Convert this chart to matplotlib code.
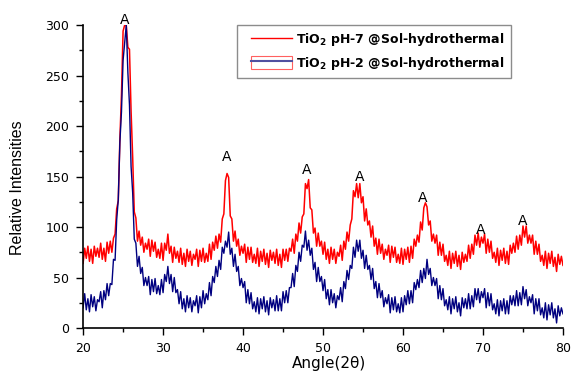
import matplotlib
matplotlib.use("Agg")
import matplotlib.pyplot as plt
import numpy as np
from matplotlib.lines import Line2D
from matplotlib.patches import Rectangle
from matplotlib.legend_handler import HandlerTuple, HandlerLine2D

plt.rcParams['font.family'] = ['DejaVu Sans']

# 2-theta grid: 20..80 in 0.2 deg steps
angle_start, angle_step = 20.0, 0.2

ph7 = [
    64, 79, 69, 81, 66,  78, 64, 81, 71, 79,  70, 84, 68, 79, 66,
    85, 74, 86, 75, 89,  93, 118, 126, 187, 231,  294, 300, 300, 278, 276,
    215, 169, 115, 109, 86,  96, 82, 90, 75, 84,  78, 88, 71, 87, 76,
    85, 70, 78, 69, 84,  67, 84, 77, 93, 74,  81, 65, 80, 69, 76,
    65, 79, 63, 74, 61,  78, 66, 76, 62, 73,  68, 78, 61, 77, 66,
    79, 65, 74, 66, 83,  68, 85, 77, 91, 79,  93, 85, 108, 113, 146,
    153, 149, 111, 108, 86,  96, 81, 88, 72, 81,  74, 83, 65, 80, 68,
    80, 65, 73, 64, 79,  61, 76, 66, 78, 63,  74, 60, 77, 67, 75,
    64, 78, 62, 73, 60,  78, 67, 78, 66, 79,  76, 88, 74, 93, 86,
    104, 94, 110, 113, 143,  138, 147, 119, 117, 94,  99, 81, 94, 81, 86,
    73, 85, 68, 78, 64,  80, 68, 78, 64, 75,  71, 82, 67, 86, 78,
    95, 86, 102, 108, 136,  130, 143, 129, 143, 124,  130, 106, 118, 102, 106,
    90, 101, 81, 89, 73,  88, 74, 83, 68, 78,  72, 82, 65, 81, 70,
    80, 65, 73, 64, 79,  63, 78, 68, 80, 65,  81, 69, 88, 81, 92,
    85, 105, 97, 119, 124,  120, 102, 106, 86, 93,  84, 92, 72, 85, 72,
    83, 66, 72, 62, 76,  59, 74, 64, 76, 61,  72, 58, 75, 65, 73,
    66, 82, 69, 83, 73,  92, 82, 94, 80, 90,  84, 93, 74, 88, 75,
    86, 69, 75, 65, 79,  62, 77, 67, 79, 64,  76, 63, 82, 74, 84,
    75, 91, 78, 92, 82,  101, 90, 101, 84, 92,  84, 92, 73, 86, 73,
    83, 66, 72, 62, 76,  59, 74, 64, 76, 61,  70, 56, 73, 63, 71,
    62,
]

ph2 = [
    20, 34, 18, 29, 16,  33, 21, 31, 17, 28,  26, 36, 20, 37, 28,
    44, 32, 44, 43, 68,  67, 107, 127, 184, 214,  265, 283, 300, 253, 221,
    160, 134, 88, 84, 61,  71, 54, 60, 42, 50,  42, 51, 33, 48, 36,
    49, 34, 42, 33, 48,  35, 53, 46, 61, 44,  53, 36, 50, 35, 38,
    24, 36, 19, 29, 16,  32, 20, 30, 16, 27,  22, 32, 15, 31, 20,
    37, 24, 34, 28, 45,  32, 51, 45, 61, 51,  67, 58, 80, 74, 86,
    80, 95, 73, 79, 61,  73, 56, 61, 42, 49,  40, 46, 25, 38, 24,
    35, 19, 26, 16, 30,  14, 29, 19, 31, 16,  27, 13, 30, 20, 28,
    17, 32, 17, 29, 17,  36, 25, 37, 25, 40,  40, 54, 41, 62, 56,
    75, 66, 82, 80, 96,  77, 87, 72, 79, 58,  65, 46, 60, 46, 51,
    37, 48, 29, 38, 23,  38, 25, 34, 20, 32,  28, 40, 26, 46, 39,
    57, 48, 62, 59, 80,  70, 87, 76, 87, 69,  77, 59, 72, 58, 62,
    48, 59, 39, 46, 30,  44, 30, 37, 21, 30,  24, 33, 15, 30, 18,
    31, 16, 24, 15, 30,  16, 32, 23, 37, 24,  37, 25, 45, 38, 48,
    40, 57, 45, 59, 49,  68, 53, 59, 42, 50,  42, 49, 29, 42, 28,
    39, 22, 28, 18, 31,  14, 29, 19, 31, 16,  25, 12, 30, 20, 29,
    19, 34, 19, 32, 21,  39, 28, 39, 25, 36,  30, 39, 20, 35, 22,
    34, 18, 24, 14, 28,  12, 27, 17, 29, 14,  27, 14, 32, 23, 32,
    22, 37, 22, 35, 23,  41, 29, 38, 22, 31,  25, 33, 14, 29, 17,
    29, 13, 20, 10, 25,  8, 23, 13, 25, 10,  19, 5, 22, 12, 20,
    14,
]

series_labels = [r'TiO$_\mathbf{2}$ pH-7 @Sol-hydrothermal',
                 r'TiO$_\mathbf{2}$ pH-2 @Sol-hydrothermal']

peak_angles = [25.25, 37.9, 47.9, 54.6, 62.5, 69.75, 74.9]
peak_label_heights = [305, 169, 156, 150, 129, 97, 106]
peak_text = 'A'

x = np.arange(len(ph7)) * angle_step + angle_start

fig = plt.figure(figsize=(5.73, 3.74), dpi=100)
ax = fig.add_axes([0.145, 0.123, 0.8375, 0.81])

ax.plot(x, ph7, color='#ff0000', lw=1.1)
ax.plot(x, ph2, color='#000080', lw=1.0)

for a, h in zip(peak_angles, peak_label_heights):
    ax.text(a, h, peak_text, ha='center', va='center', fontsize=10, clip_on=False)

ax.set_xlim(20, 80)
ax.set_ylim(0, 300)
ax.set_xticks([20, 30, 40, 50, 60, 70, 80])
ax.set_xticks([25, 35, 45, 55, 65, 75], minor=True)
ax.set_yticks([0, 50, 100, 150, 200, 250, 300])
ax.set_yticks([25, 75, 125, 175, 225, 275], minor=True)
ax.tick_params(which='major', direction='out', length=5, width=1, labelsize=9, pad=5)
ax.tick_params(which='minor', direction='out', length=3, width=1)
for s in ['top', 'right']:
    ax.spines[s].set_visible(False)
for s in ['left', 'bottom']:
    ax.spines[s].set_linewidth(1.2)

ax.set_xlabel('Angle(2θ)', fontsize=11)
ax.xaxis.set_label_coords((329 - 83) / 480, (328 - 356) / 303)
ax.set_ylabel('Relative Intensities', fontsize=11.5, family='Liberation Sans')
ax.yaxis.set_label_coords((25 - 83) / 480, (328 - 188) / 303)

h1 = Line2D([], [], color='#ff0000', lw=1.0)
h2 = (Rectangle((0, 0), 1, 1, facecolor='white', edgecolor='#ff6060', lw=0.8),
      Line2D([], [], color='#5050a0', lw=1.5))
leg = ax.legend([h1, h2], series_labels,
                handler_map={tuple: HandlerTuple(ndivide=1, xpad=0.6),
                             Line2D: HandlerLine2D(xpad=0.6)},
                loc='upper left', bbox_to_anchor=(237 / 573, 1 - 25 / 374),
                bbox_transform=fig.transFigure, fancybox=False, frameon=True,
                prop={'weight': 'bold', 'size': 9}, borderpad=0.5, borderaxespad=0,
                handlelength=3.9, handletextpad=0.35, labelspacing=0.5,
                handleheight=1.2)
leg.get_frame().set_edgecolor('#707070')
leg.get_frame().set_linewidth(1.0)

fig.savefig('out.png', dpi=100)
